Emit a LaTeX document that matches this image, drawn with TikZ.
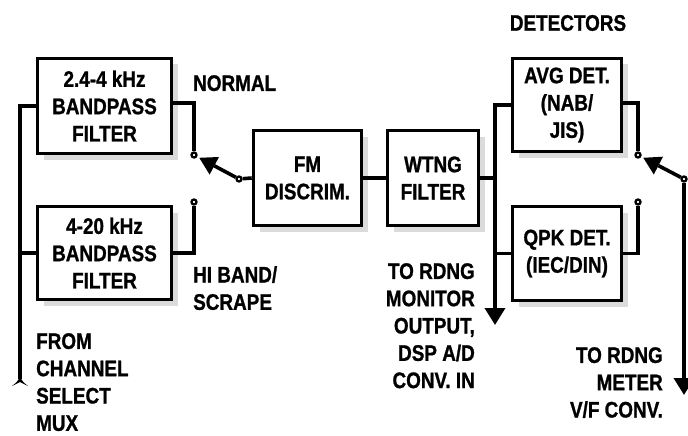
\documentclass[tikz,border=0pt]{standalone}
\usepackage{fontspec}
\newfontfamily\lblfont{Liberation Sans}[FakeStretch=0.84,FakeBold=1]
\usetikzlibrary{arrows.meta,shadows}
\begin{document}
\begin{tikzpicture}[x=1pt,y=-1pt,
  lbl/.style={font=\lblfont\bfseries\fontsize{22.5}{27.3}\selectfont, inner sep=0pt},
  blk/.style={lbl, draw, line width=3.6pt, fill=white, align=center,
     drop shadow={shadow xshift=6pt, shadow yshift=-6pt, fill=black!14, opacity=1}},
  wire/.style={line width=3.6pt},
  contact/.style={circle, draw, line width=2.3pt, fill=white, inner sep=0pt, minimum size=5pt},
  outarr/.style={wire, arrows={-Stealth[length=17pt,width=20pt,inset=0pt]}}
]
\useasboundingbox (0,0) rectangle (688,436);

% blocks
\node[blk, minimum width=134pt, minimum height=95pt] (b1) at (104.5,106) {2.4-4 kHz\\BANDPASS\\FILTER};
\node[blk, minimum width=134pt, minimum height=93pt] (b2) at (104.5,253) {4-20 kHz\\BANDPASS\\FILTER};
\node[blk, minimum width=108pt, minimum height=95pt] (fm) at (307.5,178) {FM\\DISCRIM.};
\node[blk, minimum width=91pt, minimum height=95pt] (wt) at (433,178) {WTNG\\FILTER};
\node[blk, minimum width=109pt, minimum height=93pt] (avg) at (567,105) {AVG DET.\\(NAB/\\JIS)};
\node[blk, minimum width=109pt, minimum height=94pt] (qpk) at (567,253.5) {QPK DET.\\(IEC/DIN)};

% contacts and pivots
\node[contact] (c1) at (194,155) {};
\node[contact] (c2) at (194,202) {};
\node[contact] (p1) at (239,179) {};
\node[contact] (c3) at (638,155) {};
\node[contact] (c4) at (638,202) {};
\node[contact] (p2) at (684,179) {};

% free ends
\coordinate (in) at (20,379);
\coordinate (o1) at (495,325);
\coordinate (o2) at (684,395);
\coordinate (h1) at (214.3,165.8);
\coordinate (h2) at (658.4,165.6);

% input bus
\draw[wire] (b1.west) -| (in);
\draw[wire] (b2.west) -- (b2.west -| in);
\fill ([shift={(-8,7)}]in) .. controls ([shift={(-3,3)}]in) .. ([shift={(0,-2)}]in)
      .. controls ([shift={(3,3)}]in) .. ([shift={(8,7)}]in)
      -- ([shift={(0,3)}]in) -- cycle;

% filter outputs
\draw[wire] ([yshift=3pt]b1.east) -| (c1);
\draw[wire] (b2.east) -| (c2);
\draw[wire] (p1) -- (h1);
\fill (199.3,157.8) -- (209.6,174.6) -- (219.0,157.0) -- cycle;
\draw[wire] (p1) -- (fm.west);
\draw[wire] (fm.east) -- (wt.west);

% detector bus
\draw[outarr] (avg.west) -| (o1);
\draw[wire] (wt.east) -- (wt.east -| o1);
\draw[wire] (qpk.west) -- (qpk.west -| o1);

% detector outputs
\draw[wire] ([yshift=2pt]avg.east) -| (c3);
\draw[wire] (qpk.east) -| (c4);
\draw[wire] (p2) -- (h2);
\fill (643.3,157.8) -- (653.8,174.5) -- (663.0,156.7) -- cycle;
\draw[outarr] (p2) -- (o2);

% labels
\node[lbl, anchor=center] (det) at (568,23) {DETECTORS};
\node[lbl, anchor=north west] (norm) at (193,75) {NORMAL};
\node[lbl, anchor=north west, align=left] (hib) at (193,266) {HI BAND/\\SCRAPE};
\node[lbl, anchor=north west, align=left] (from) at (36,333) {FROM\\CHANNEL\\SELECT\\MUX};
\node[lbl, anchor=north east, align=right] (mon) at (475,263) {TO RDNG\\MONITOR\\OUTPUT,\\DSP A/D\\CONV. IN};
\node[lbl, anchor=north east, align=right] (met) at (663,347) {TO RDNG\\METER\\V/F CONV.};
\end{tikzpicture}
\end{document}
